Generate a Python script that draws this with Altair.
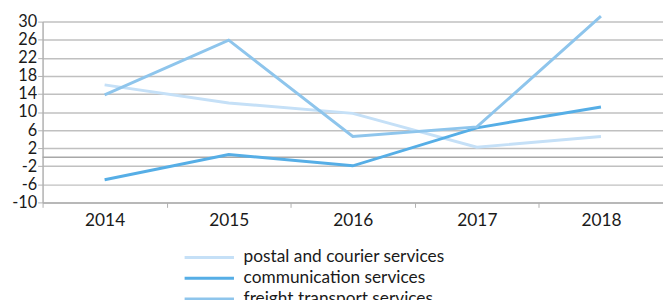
import altair as alt
import pandas as pd

years = ["2014", "2015", "2016", "2017", "2018"]
series_names = ["postal and courier services", "communication services", "freight transport services"]
postal = [16.0, 12.0, 9.7, 2.2, 4.6]
communication = [-5.0, 0.6, -1.9, 6.5, 11.1]
freight = [13.8, 25.9, 4.6, 6.7, 31.2]
colors = ["#c5e0f7", "#56aee6", "#8ec5ec"]
y_ticks = [-10, -6, -2, 2, 6, 10, 14, 18, 22, 26, 30]

rows = []
for i, (name, vals) in enumerate(zip(series_names, [postal, communication, freight])):
    for y, v in zip(years, vals):
        rows.append({"year": y, "value": v, "series": name, "series_order": i})
df = pd.DataFrame(rows)

FONT = "Lato"
FS = 17.5
TXT = "#1a1a1a"

y_scale = alt.Scale(domain=[-10, 30], nice=False, zero=False)
y_axis = alt.Axis(values=y_ticks, labelExpr="'' + datum.value", labelOverlap=False,
                  gridColor="#c0c0c0", gridWidth=1.5, domainColor="#b0b0b0",
                  domainWidth=1.5, tickColor="#b0b0b0", tickSize=5, labelFontSize=16.5,
                  labelFont=FONT, labelColor=TXT, labelPadding=1)

lines = alt.Chart(df).mark_line(strokeWidth=3).encode(
    x=alt.X("year:O", title=None, bandPosition=0.5,
            scale=alt.Scale(type="band", paddingInner=0, paddingOuter=0),
            axis=alt.Axis(labelAngle=0, tickBand="extent", grid=False, domainColor="#b0b0b0",
                          domainWidth=1.5, tickColor="#b0b0b0", tickSize=5, labelFontSize=FS,
                          labelFont=FONT, labelColor=TXT, labelPadding=4)),
    y=alt.Y("value:Q", title=None, scale=y_scale, axis=y_axis),
    color=alt.Color("series:N", scale=alt.Scale(domain=series_names, range=colors),
                    legend=alt.Legend(title=None, orient="none", legendX=160, legendY=230,
                                      direction="vertical", labelLimit=400, padding=0,
                                      symbolType="M-4,0H4", symbolSize=156, symbolStrokeWidth=3,
                                      labelFontSize=FS, labelFont=FONT, labelColor=TXT,
                                      rowPadding=2, labelOffset=26)),
    order=alt.Order("series_order:Q"),
)

zero = alt.Chart(pd.DataFrame({"z": [0]})).mark_rule(color="#a8a8a8", strokeWidth=1.5).encode(
    y=alt.Y("z:Q", scale=y_scale, axis=y_axis, title=None)
)

chart = alt.layer(zero, lines).properties(
    width=628, height=183,
    autosize=alt.AutoSizeParams(type="none"),
    padding={"left": 35, "top": 12, "right": 0, "bottom": 97},
).configure_view(stroke=None)

chart.save("out.html", embed_options={"renderer": "svg", "actions": False})
